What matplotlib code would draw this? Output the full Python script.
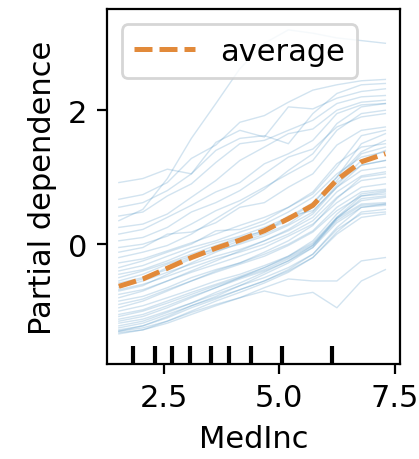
import numpy as np
import matplotlib
matplotlib.use("Agg")
import matplotlib.pyplot as plt
from matplotlib.ticker import MultipleLocator

# grid of MedInc values used for the ICE / PD curves
grid = [1.53, 2.05, 2.58, 3.10, 3.63, 4.15, 4.68, 5.20, 5.73, 6.25, 6.78, 7.30]

# individual conditional expectation curves
ice_lines = [
    [0.92, 0.98, 1.12, 1.05, 1.52, 1.70, 1.60, 2.05, 2.02, 2.18, 2.28, 2.32],
    [0.67, 0.74, 0.92, 1.28, 1.48, 1.82, 1.92, 2.12, 2.30, 2.38, 2.44, 2.46],
    [0.35, 0.52, 0.98, 1.58, 2.10, 2.62, 3.00, 3.20, 3.15, 3.08, 3.04, 3.00],
    [0.55, 0.62, 0.80, 1.05, 1.40, 1.58, 1.62, 1.50, 1.95, 2.25, 2.38, 2.40],
    [0.42, 0.48, 0.72, 0.90, 1.22, 1.50, 1.55, 1.70, 1.85, 2.10, 2.20, 2.22],
    [0.25, 0.30, 0.45, 0.70, 0.95, 1.25, 1.45, 1.65, 1.72, 2.00, 2.12, 2.15],
    [0.15, 0.22, 0.40, 0.58, 0.78, 0.92, 1.20, 1.35, 1.55, 1.95, 2.08, 2.10],
    [0.05, 0.10, 0.25, 0.48, 0.62, 0.80, 1.05, 1.30, 1.42, 1.75, 1.90, 1.95],
    [-0.05, 0.00, 0.12, 0.30, 0.50, 0.65, 0.85, 1.05, 1.25, 1.70, 1.95, 2.00],
    [-0.12, -0.05, 0.15, 0.18, 0.32, 0.55, 0.62, 0.85, 1.05, 1.48, 1.70, 1.75],
    [-0.20, -0.12, -0.02, 0.15, 0.38, 0.60, 0.82, 1.10, 1.35, 1.80, 2.05, 2.10],
    [-0.28, -0.22, -0.10, 0.02, 0.15, 0.28, 0.40, 0.55, 0.78, 1.20, 1.45, 1.50],
    [-0.35, -0.25, -0.12, 0.00, 0.20, 0.22, 0.35, 0.55, 0.75, 1.15, 1.62, 1.70],
    [-0.40, -0.32, -0.18, -0.05, 0.05, 0.18, 0.30, 0.48, 0.70, 1.05, 1.30, 1.38],
    [-0.45, -0.38, -0.25, -0.10, 0.02, 0.12, 0.25, 0.40, 0.62, 1.00, 1.38, 1.55],
    [-0.50, -0.40, -0.28, -0.15, -0.02, 0.10, 0.20, 0.35, 0.55, 0.92, 1.18, 1.25],
    [-0.55, -0.45, -0.30, -0.18, -0.08, 0.05, 0.18, 0.42, 0.50, 0.85, 1.10, 1.15],
    [-0.58, -0.50, -0.38, -0.22, -0.10, 0.00, 0.12, 0.28, 0.48, 0.88, 1.25, 1.40],
    [-0.62, -0.52, -0.35, -0.20, -0.05, 0.08, 0.20, 0.38, 0.60, 1.00, 1.50, 1.65],
    [-0.65, -0.55, -0.42, -0.30, -0.18, -0.08, 0.05, 0.20, 0.40, 0.78, 1.02, 1.08],
    [-0.68, -0.60, -0.48, -0.35, -0.22, -0.12, 0.00, 0.15, 0.35, 0.70, 0.95, 1.00],
    [-0.70, -0.62, -0.45, -0.28, -0.12, 0.02, 0.15, 0.30, 0.55, 0.95, 1.35, 1.45],
    [-0.75, -0.68, -0.55, -0.42, -0.30, -0.18, -0.05, 0.12, 0.30, 0.62, 0.85, 0.90],
    [-0.80, -0.70, -0.55, -0.40, -0.25, -0.10, 0.05, 0.22, 0.45, 0.85, 1.18, 1.25],
    [-0.85, -0.78, -0.65, -0.50, -0.38, -0.28, -0.15, 0.00, 0.20, 0.55, 0.78, 0.82],
    [-0.90, -0.82, -0.68, -0.55, -0.42, -0.30, -0.18, -0.02, 0.18, 0.50, 0.72, 0.75],
    [-0.95, -0.85, -0.70, -0.55, -0.40, -0.28, -0.12, 0.05, 0.28, 0.68, 1.00, 1.05],
    [-1.00, -0.92, -0.80, -0.68, -0.55, -0.45, -0.32, -0.18, 0.02, 0.40, 0.65, 0.70],
    [-1.05, -0.98, -0.85, -0.72, -0.60, -0.48, -0.35, -0.20, 0.00, 0.38, 0.60, 0.62],
    [-1.08, -1.00, -0.88, -0.75, -0.62, -0.50, -0.38, -0.22, -0.02, 0.35, 0.58, 0.60],
    [-1.12, -1.05, -0.92, -0.78, -0.65, -0.52, -0.40, -0.25, -0.05, 0.32, 0.55, 0.58],
    [-1.15, -1.08, -0.95, -0.80, -0.65, -0.50, -0.35, -0.18, 0.05, 0.45, 0.75, 0.80],
    [-1.18, -1.12, -1.00, -0.88, -0.75, -0.62, -0.50, -0.35, -0.15, 0.22, 0.45, 0.48],
    [-1.22, -1.15, -1.02, -0.88, -0.72, -0.58, -0.42, -0.25, -0.02, 0.40, 0.72, 0.78],
    [-1.25, -1.18, -1.05, -0.92, -0.80, -0.68, -0.55, -0.40, -0.20, 0.15, 0.40, 0.45],
    [-1.28, -1.22, -1.10, -0.95, -0.82, -0.68, -0.55, -0.38, -0.15, 0.25, 0.55, 0.60],
    [-1.30, -1.25, -1.15, -1.02, -0.90, -0.80, -0.70, -0.78, -0.72, -0.95, -0.55, -0.38],
    [-1.32, -1.28, -1.18, -1.05, -0.92, -0.80, -0.65, -0.52, -0.55, -0.55, -0.25, -0.20],
    [-1.34, -1.28, -1.15, -1.00, -0.85, -0.72, -0.58, -0.42, -0.20, 0.18, 0.48, 0.52],
    [-1.30, -1.22, -1.08, -0.92, -0.78, -0.62, -0.45, -0.28, -0.05, 0.38, 0.68, 0.72],
]

# partial dependence (average of the ICE curves)
average = [-0.63, -0.52, -0.36, -0.20, -0.06, 0.06, 0.20, 0.38, 0.58, 0.96, 1.23, 1.35]

# deciles of MedInc shown as rug ticks
deciles = [1.84, 2.31, 2.69, 3.08, 3.52, 3.91, 4.40, 5.07, 6.14]

plt.rcParams['font.size'] = 11

fig = plt.figure(figsize=(4.19 / 2, 4.6 / 2), dpi=200)
ax = fig.add_axes([0.255, 0.2065, 0.700, 0.7715])

for vals in ice_lines:
    ax.plot(grid, vals, color='tab:blue', alpha=0.2, linewidth=0.5)
ax.plot(grid, average, color='#e28a3a', linestyle='--', dashes=(3.6, 1.4),
        linewidth=1.8, label='average')

ax.set_xlim(1.27, 7.62)
ax.set_ylim(-1.79, 3.51)
ax.vlines(deciles, 0, 0.05, transform=ax.get_xaxis_transform(), color='k')

ax.xaxis.set_major_locator(MultipleLocator(2.5))
ax.yaxis.set_major_locator(MultipleLocator(2))
ax.set_xlabel('MedInc')
ax.set_ylabel('Partial dependence')
ax.legend(loc='upper left')

fig.savefig('out.png', dpi=200)
